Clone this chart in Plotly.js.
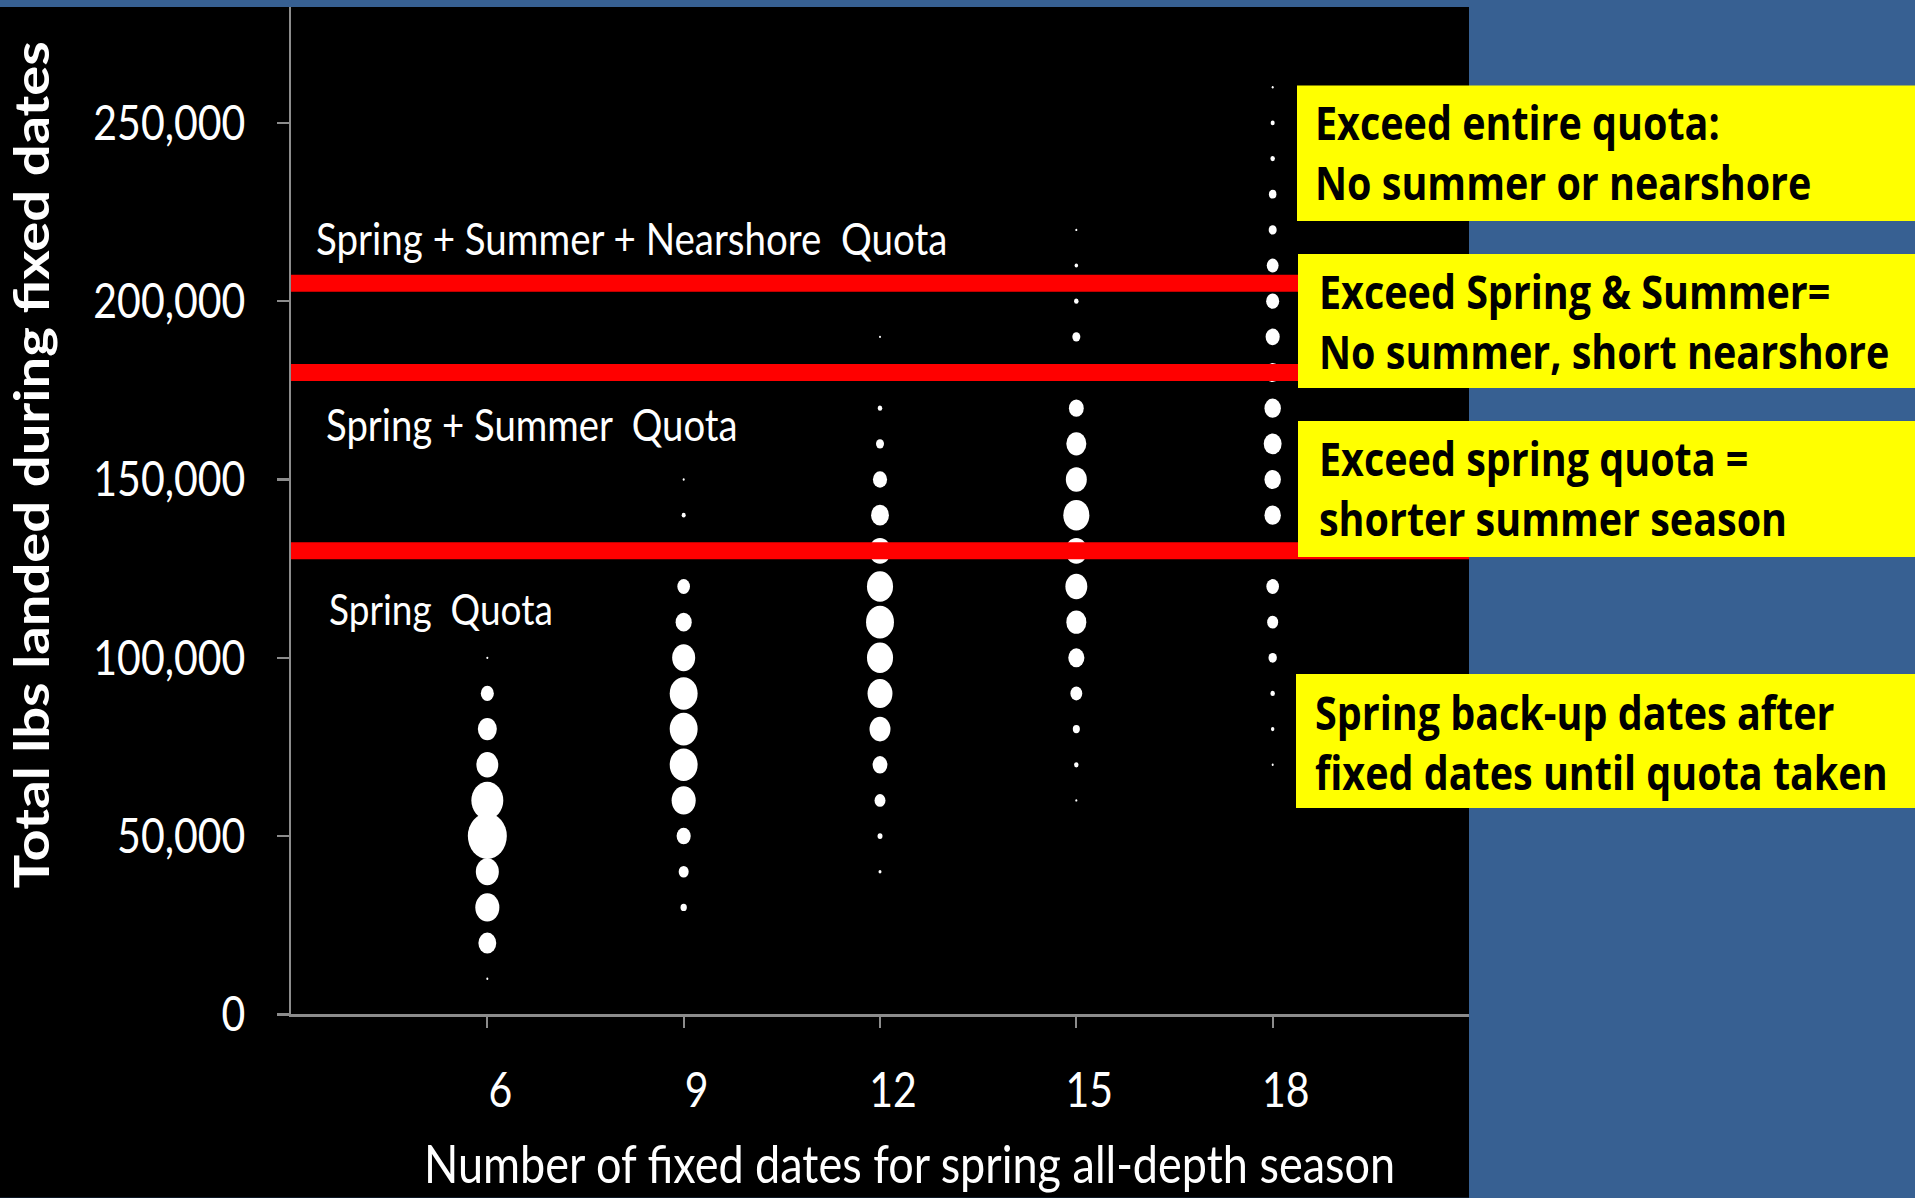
<!DOCTYPE html>
<html>
<head>
<meta charset="utf-8">
<script src="https://cdn.plot.ly/plotly-3.0.1.min.js"></script>
<style>
html, body { margin:0; padding:0; background:#376092; overflow:hidden; width:1915px; height:1198px; }
#wrap { position:absolute; left:0; top:0; width:1915px; transform-origin:0 0; }
</style>
</head>
<body>
<div id="wrap"><div id="chart"></div></div>
<script>
// ---------------- DATA ----------------
const fixedDates = [6, 9, 12, 15, 18];

// total lbs landed (y) and relative number of simulated seasons (bubble area) per column
const lbs6  = [10000, 20000, 30000, 40000, 50000, 60000, 70000, 80000, 90000, 100000];
const runs6 = [0.4, 32, 58, 53, 152, 102, 48, 36, 17, 0.4];

const lbs9  = [30000, 40000, 50000, 60000, 70000, 80000, 90000, 100000, 110000, 120000, 130000, 140000, 150000];
const runs9 = [4, 10, 20, 58, 78, 78, 78, 53, 26, 16, 6, 1.6, 0.4];

const lbs12  = [40000, 50000, 60000, 70000, 80000, 90000, 100000, 110000, 120000, 130000, 140000, 150000, 160000, 170000, 180000, 190000];
const runs12 = [0.9, 2.5, 12, 22, 44, 62, 68, 78, 68, 48, 32, 20, 6.4, 2, 0.9, 0.4];

const lbs15  = [60000, 70000, 80000, 90000, 100000, 110000, 120000, 130000, 140000, 150000, 160000, 170000, 180000, 190000, 200000, 210000, 220000];
const runs15 = [0.4, 2, 5, 14, 26, 40, 48, 48, 68, 44, 40, 22, 12, 6.4, 2, 1.2, 0.4];

const lbs18  = [70000, 80000, 90000, 100000, 110000, 120000, 130000, 140000, 150000, 160000, 170000, 180000, 190000, 200000, 210000, 220000, 230000, 240000, 250000, 260000];
const runs18 = [0.4, 1.2, 2, 7, 12, 16, 14, 27, 27, 32, 27, 26, 20, 17, 14, 6.4, 5.6, 2, 1.6, 0.4];

// quota thresholds (lbs) and their labels
const quotaLevels = [130000, 180000, 205000];
const quotaLabels = ["Spring\u00a0 Quota", "Spring + Summer\u00a0 Quota", "Spring + Summer + Nearshore\u00a0 Quota"];

// outcome boxes (top to bottom), two lines each
const outcomeLine1 = ["Exceed entire quota:", "Exceed Spring & Summer=", "Exceed spring quota =", "Spring back-up dates after"];
const outcomeLine2 = ["No summer or nearshore", "No summer, short nearshore", "shorter summer season", "fixed dates until quota taken"];

const yTickVals = [0, 50000, 100000, 150000, 200000, 250000];
const yTickText = ["0", "50,000", "100,000", "150,000", "200,000", "250,000"];
const xTitle = "Number of fixed dates for spring all-depth season";
const yTitle = "Total lbs landed during fixed dates";

// ---------------- LAYOUT GEOMETRY ----------------
const S = 1.17;                 // vertical stretch of the original picture
document.getElementById('wrap').style.transform = 'scaleY(' + S + ')';
const W = 1915, H = 1198;
const PL = 291, PR = 1469, PT = 7, PB = 1014.5;   // plot area in page px
const pxp = v => (v - PL) / (PR - PL);
const pyp = v => (PB - v) / (PB - PT);

const FONT = 'Lato, "Open Sans", sans-serif';
const BOXFONT = '"Open Sans", Lato, sans-serif';
const GRAY = '#8c8c8c';

const columns = [
  {x: fixedDates[0], y: lbs6,  n: runs6},
  {x: fixedDates[1], y: lbs9,  n: runs9},
  {x: fixedDates[2], y: lbs12, n: runs12},
  {x: fixedDates[3], y: lbs15, n: runs15},
  {x: fixedDates[4], y: lbs18, n: runs18}
];

const traces = columns.map(c => ({
  type: 'scatter', mode: 'markers',
  x: c.y.map(() => c.x), y: c.y,
  marker: {size: c.n, sizemode: 'area', sizeref: 0.2, color: '#ffffff', opacity: 1, line: {width: 0}},
  hoverinfo: 'skip', showlegend: false
}));

const shapes = [];
// black slide panel behind the chart
shapes.push({type:'rect', xref:'paper', yref:'paper', x0:pxp(0), x1:pxp(1469), y0:pyp(H), y1:pyp(PT),
  fillcolor:'#000000', line:{width:0}, layer:'below'});
// quota lines
quotaLevels.forEach(q => shapes.push({type:'line', xref:'x', yref:'y', x0:3, x1:21, y0:q, y1:q,
  line:{color:'#ff0000', width:17 / S}, layer:'above'}));
// yellow outcome boxes
const boxes = [
  {l:1297, t:85.5, b:221, tx:1313, c:153},
  {l:1298, t:254,  b:388, tx:1317, c:321},
  {l:1298, t:421,  b:557, tx:1317, c:489},
  {l:1296, t:674,  b:808, tx:1313, c:742.5}
];
boxes.forEach(bx => shapes.push({type:'rect', xref:'paper', yref:'paper', x0:pxp(bx.l), x1:pxp(W),
  y0:pyp(bx.b), y1:pyp(bx.t), fillcolor:'#ffff00', line:{width:0}, layer:'above'}));

const annotations = [];
boxes.forEach((bx, i) => {
  annotations.push({xref:'paper', yref:'paper', x:pxp(bx.tx), y:pyp(bx.c), xanchor:'left', yanchor:'middle', align:'left',
    text: outcomeLine1[i] + '<br>' + outcomeLine2[i], showarrow:false,
    font:{family:BOXFONT, size:39.5, weight:700, color:'#000000'}});
});
const quotaLabelPos = [{x:327, y:607.6, s:37}, {x:324, y:423, s:38.3}, {x:314, y:238, s:38.5}];
quotaLabels.forEach((t, i) => annotations.push({xref:'paper', yref:'paper', x:pxp(quotaLabelPos[i].x), y:pyp(quotaLabelPos[i].y),
  xanchor:'left', yanchor:'middle', text:t, showarrow:false, font:{family:FONT, size:quotaLabelPos[i].s, color:'#ffffff'}}));
// axis titles
annotations.push({xref:'paper', yref:'paper', x:pxp(909), y:pyp(1163), xanchor:'center', yanchor:'middle',
  text:xTitle, showarrow:false, font:{family:FONT, size:45, color:'#ffffff'}});
annotations.push({xref:'paper', yref:'paper', x:pxp(30), y:pyp(465), xanchor:'center', yanchor:'middle', textangle:-90,
  text:yTitle, showarrow:false, font:{family:FONT, size:48, weight:700, color:'#ffffff'}});

const layout = {
  width: W, height: H / S,
  margin: {l: PL, r: W - PR, t: PT / S, b: (H - PB) / S, pad: 0},
  paper_bgcolor: '#376092', plot_bgcolor: 'rgba(0,0,0,0)',
  showlegend: false, hovermode: false,
  xaxis: {range:[3, 21], tickvals: fixedDates, ticks:'outside', ticklen: 11 / S, tickwidth: 2, tickcolor: GRAY,
    showline:true, linecolor: GRAY, linewidth: 2.5, showgrid:false, zeroline:false,
    tickfont:{family:FONT, size:41, color:'#ffffff'}, ticklabelstandoff: 18, ticklabelshift: 13, fixedrange:true},
  yaxis: {range:[0, 282500], tickvals: yTickVals, ticktext: yTickText, ticks:'outside', ticklen: 12, tickwidth: 2, tickcolor: GRAY,
    showline:true, linecolor: GRAY, linewidth: 2.5, showgrid:false, zeroline:false,
    tickfont:{family:FONT, size:41, color:'#ffffff'}, ticklabelstandoff: 23, fixedrange:true},
  shapes: shapes,
  annotations: annotations
};

Plotly.newPlot('chart', traces, layout, {displayModeBar:false, staticPlot:true});
</script>
</body>
</html>
